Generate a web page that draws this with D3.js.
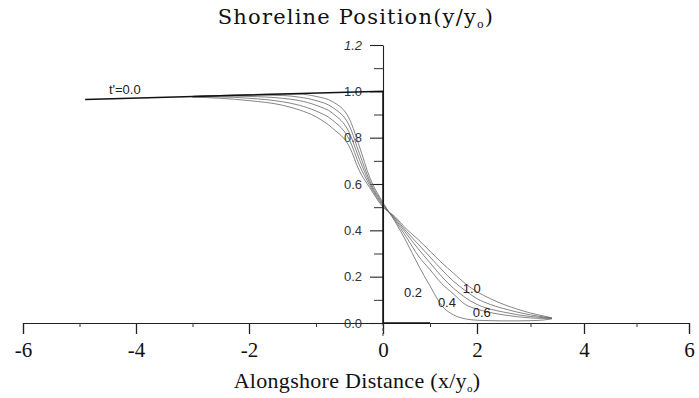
<!DOCTYPE html>
<html>
<head>
<meta charset="utf-8">
<script src="https://cdn.jsdelivr.net/npm/d3@7"></script>
<style>
  html, body { margin: 0; padding: 0; background: #fff; }
</style>
</head>
<body>
<svg id="chart" width="699" height="398"></svg>
<script>
// x positions (x/y0) shared by the t' > 0 profiles
const xVals = [-3, -2.5, -2, -1.5, -1.25, -1, -0.75, -0.5, -0.35, -0.2, 0, 0.25, 0.5, 0.75, 1, 1.25, 1.5, 1.75, 2, 2.25, 2.5, 2.75, 3, 3.25, 3.4];

// shoreline position y/y0 for each dimensionless time t'
const t02 = [0.978, 0.982, 0.985, 0.988, 0.988, 0.978, 0.955, 0.88, 0.76, 0.63, 0.52, 0.44, 0.35, 0.25, 0.16, 0.075, 0.035, 0.018, 0.012, 0.01, 0.009, 0.009, 0.01, 0.013, 0.018];
const t04 = [0.978, 0.982, 0.984, 0.982, 0.975, 0.96, 0.93, 0.85, 0.73, 0.615, 0.515, 0.445, 0.37, 0.29, 0.23, 0.17, 0.125, 0.08, 0.06, 0.045, 0.035, 0.027, 0.022, 0.02, 0.02];
const t06 = [0.978, 0.98, 0.978, 0.97, 0.96, 0.94, 0.905, 0.82, 0.705, 0.605, 0.51, 0.45, 0.385, 0.32, 0.26, 0.2, 0.15, 0.11, 0.08, 0.06, 0.047, 0.036, 0.028, 0.023, 0.02];
const t08 = [0.976, 0.976, 0.97, 0.955, 0.94, 0.915, 0.875, 0.79, 0.68, 0.595, 0.505, 0.455, 0.395, 0.34, 0.285, 0.23, 0.18, 0.14, 0.105, 0.08, 0.062, 0.047, 0.035, 0.026, 0.021];
const t10 = [0.975, 0.97, 0.96, 0.94, 0.92, 0.89, 0.84, 0.76, 0.655, 0.585, 0.5, 0.46, 0.405, 0.36, 0.31, 0.26, 0.215, 0.17, 0.135, 0.105, 0.08, 0.06, 0.043, 0.03, 0.022];

// initial shoreline t' = 0.0 (step at the origin)
const initX = [-4.9, 0, 0, 1.0];
const initY = [0.965, 1.0, 0.0, 0.0];

// curve annotations
const curveLabels = ["t'=0.0", "0.2", "0.4", "1.0", "0.6"];
const curveLabelX = [-4.48, 0.64, 1.36, 1.89, 2.09];
const curveLabelY = [0.99, 0.13, 0.09, 0.147, 0.047];

// axis ticks
const xMajorTicks = [-6, -4, -2, 0, 2, 4, 6];
const xMinorTicks = [-5, -3, -1, 1, 3, 5];
const yMajorTicks = [0, 0.2, 0.4, 0.6, 0.8, 1.0, 1.2];
const yMinorTicks = [0.1, 0.3, 0.5, 0.7, 0.9, 1.1];

const svg = d3.select('#chart');

// scanned figure: the axis spacing is not quite uniform, so calibrate per major tick
const xRange = [23, 136, 249, 383, 477, 584, 689];
const x = d3.scaleLinear().domain(xMajorTicks).range(xRange);
const y = d3.scaleLinear().domain([0, 1.2]).range([323, 45]);

const serif = 'Liberation Serif, Times New Roman, serif';
const sans = 'Liberation Sans, Arial, sans-serif';

// Title
const title = svg.append('text')
  .attr('x', 356)
  .attr('y', 24)
  .attr('text-anchor', 'middle')
  .style('font-family', 'DejaVu Serif, serif')
  .style('font-size', '21px')
  .style('letter-spacing', '1.2px')
  .style('fill', '#111');
title.append('tspan').text('Shoreline Position(y/y');
title.append('tspan').attr('dy', 4).style('font-size', '11px').text('o');
title.append('tspan').attr('dy', -4).text(')');

// X axis
const xAxis = svg.append('g')
  .attr('transform', `translate(0, ${y(0)})`)
  .call(d3.axisBottom(x).tickValues(xMajorTicks).tickSize(11).tickPadding(8).tickFormat(d3.format('d')));
xAxis.select('.domain').attr('stroke', '#222').attr('stroke-width', 1.1);
xAxis.selectAll('.tick line').attr('stroke', '#222').attr('stroke-width', 1.3);
xAxis.selectAll('.tick text')
  .style('font-family', serif)
  .style('font-size', '21px')
  .style('fill', '#111')
  .text(d => d < 0 ? '-' + Math.abs(d) : d);

svg.append('g')
  .attr('transform', `translate(0, ${y(0)})`)
  .call(d3.axisBottom(x).tickValues(xMinorTicks).tickSize(4).tickFormat(''))
  .call(g => g.select('.domain').remove())
  .selectAll('.tick line').attr('stroke', '#333');

// X axis title
const xTitle = svg.append('text')
  .attr('x', 357)
  .attr('y', 388)
  .attr('text-anchor', 'middle')
  .style('font-family', serif)
  .style('font-size', '22px')
  .style('letter-spacing', '0.3px')
  .style('fill', '#111');
xTitle.append('tspan').text('Alongshore Distance (x/y');
xTitle.append('tspan').attr('dy', 4).style('font-size', '11px').text('o');
xTitle.append('tspan').attr('dy', -4).text(')');

// Y axis at x = 0
const yAxis = svg.append('g')
  .attr('transform', `translate(${x(0)}, 0)`)
  .call(d3.axisLeft(y).tickValues(yMajorTicks).tickSize(13).tickPadding(8).tickSizeOuter(0).tickFormat(d3.format('.1f')));
yAxis.select('.domain').attr('stroke', '#222').attr('stroke-width', 1.1);
yAxis.selectAll('.tick line').attr('stroke', '#222').attr('stroke-width', 1.1);
yAxis.selectAll('.tick text')
  .style('font-family', sans)
  .style('font-size', '13px')
  .style('fill', '#333')
  .style('font-style', d => d === 1.2 ? 'italic' : 'normal');

svg.append('g')
  .attr('transform', `translate(${x(0)}, 0)`)
  .call(d3.axisLeft(y).tickValues(yMinorTicks).tickSize(9).tickFormat(''))
  .call(g => g.select('.domain').remove())
  .selectAll('.tick line').attr('stroke', '#333');

// y axis continues a little below the x axis
svg.append('line')
  .attr('x1', x(0)).attr('x2', x(0))
  .attr('y1', y(0)).attr('y2', y(-0.06))
  .attr('stroke', '#444')
  .attr('stroke-dasharray', '3,2');

// Profiles for t' > 0
const line = d3.line()
  .x(d => x(d[0]))
  .y(d => y(d[1]))
  .curve(d3.curveMonotoneX);

const profiles = [t02, t04, t06, t08, t10];
svg.append('g')
  .selectAll('path')
  .data(profiles)
  .enter()
  .append('path')
  .attr('d', vals => line(xVals.map((xv, i) => [xv, vals[i]])))
  .attr('fill', 'none')
  .attr('stroke', '#666')
  .attr('stroke-width', 0.8);

// Initial shoreline
svg.append('path')
  .attr('d', d3.line().x(d => x(d[0])).y(d => y(d[1]))(initX.map((xv, i) => [xv, initY[i]])))
  .attr('fill', 'none')
  .attr('stroke', '#111')
  .attr('stroke-width', 1.5);

// Curve labels
svg.append('g')
  .selectAll('text')
  .data(curveLabels)
  .enter()
  .append('text')
  .attr('x', (_, i) => x(curveLabelX[i]))
  .attr('y', (_, i) => y(curveLabelY[i]))
  .attr('text-anchor', (_, i) => i === 0 ? 'start' : 'middle')
  .attr('dy', (_, i) => i === 0 ? 0 : '0.35em')
  .style('font-family', sans)
  .style('font-size', '13px')
  .style('fill', '#222')
  .text(d => d);
</script>
</body>
</html>
